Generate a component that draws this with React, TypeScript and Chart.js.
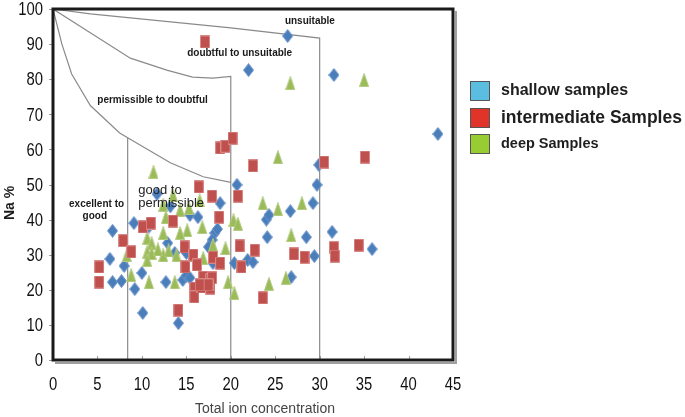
import React, { useEffect, useRef } from "react";
import { Chart, registerables } from "chart.js";
Chart.register(...registerables);

// ---------- data ----------
const xTickValues = [0, 5, 10, 15, 20, 25, 30, 35, 40, 45];
const yTickValues = [0, 10, 20, 30, 40, 50, 60, 70, 80, 90, 100];

const seriesNames = ["shallow samples", "intermediate Samples", "deep Samples"];

const shallowPoints: [number, number][] = [
  [6.7, 36.8], [6.4, 28.8], [8.0, 26.8], [6.7, 22.2], [7.7, 22.5], [9.2, 20.2],
  [10.0, 24.8], [9.1, 39.0], [10.1, 13.4], [14.1, 10.5], [12.7, 22.2], [11.7, 47.3],
  [12.9, 33.3], [13.7, 30.5], [14.6, 22.8], [15.0, 24.0], [15.4, 23.4], [15.0, 30.5],
  [15.4, 41.3], [16.3, 40.7], [18.8, 44.7], [18.2, 36.2], [18.5, 37.3], [17.9, 34.2],
  [17.5, 32.2], [18.0, 27.6], [10.8, 38.0], [13.2, 43.8],
  [20.7, 49.9], [20.4, 27.6], [21.9, 28.5], [22.5, 27.9], [24.0, 40.0], [24.3, 41.3],
  [24.1, 35.0], [26.7, 42.4], [28.5, 35.0], [29.25, 44.7], [29.4, 29.6], [29.7, 49.9],
  [29.9, 55.6], [31.4, 36.5], [35.9, 31.6], [26.8, 23.6], [26.4, 92.3], [22.0, 82.6],
  [31.6, 81.2], [43.3, 64.4],
];

const intermediatePoints: [number, number][] = [
  [17.1, 90.6], [18.8, 60.4], [19.4, 60.9], [20.2, 63.2], [22.5, 55.3], [30.5, 56.4],
  [35.1, 57.8], [20.8, 46.7], [21.0, 32.5], [21.2, 26.5], [22.7, 31.3], [27.1, 30.2],
  [28.3, 29.3], [31.6, 32.0], [31.7, 29.6], [34.4, 32.7], [23.6, 17.7], [16.4, 49.3],
  [17.9, 46.7], [18.7, 40.7], [13.5, 39.6], [10.1, 37.9], [11.0, 39.0], [7.9, 34.0],
  [8.8, 30.8], [5.2, 26.5], [5.2, 22.2], [14.8, 32.2], [14.9, 26.5], [15.8, 29.9],
  [16.2, 27.1], [15.9, 20.5], [15.9, 18.0], [16.9, 23.6], [16.7, 20.8], [17.7, 22.8],
  [17.7, 20.5], [18.0, 29.3], [18.8, 27.6], [14.1, 14.2], [17.9, 23.4], [16.5, 21.4],
  [17.5, 21.4],
];

const deepPoints: [number, number][] = [
  [26.7, 78.9], [35.0, 79.8], [25.3, 57.8], [23.6, 44.7], [25.3, 43.0], [28.0, 44.7],
  [26.8, 35.6], [24.3, 21.7], [26.2, 23.4], [20.3, 39.9], [20.8, 38.8], [20.4, 19.1],
  [19.7, 22.2], [11.3, 53.6], [13.5, 47.0], [12.4, 44.2], [12.7, 40.7], [14.3, 42.7],
  [15.3, 43.3], [16.5, 45.5], [16.8, 37.9], [15.1, 37.0], [14.3, 36.2], [12.4, 36.2],
  [10.6, 34.8], [11.1, 33.3], [10.6, 30.8], [11.1, 30.5], [12.4, 29.9], [13.9, 29.9],
  [10.6, 28.5], [8.8, 24.2], [8.3, 29.9], [10.8, 22.2], [13.7, 22.2], [16.9, 29.1],
  [18.0, 32.8], [19.4, 31.9], [11.8, 31.5], [13.0, 31.2],
];

// Wilcox-type class boundaries
const boundaryExcellent: [number, number][] = [
  [0, 100], [1, 90], [2.1, 81.5], [4.2, 72.5], [7.5, 64.7], [8.4, 63.3],
  [13.2, 56.2], [16.9, 52.2], [20, 50.6],
];
const boundaryExcellentVertical: [number, number][] = [[8.4, 0], [8.4, 63.3]];
const boundaryPermissible: [number, number][] = [
  [0, 100], [8.7, 86], [12.8, 82.6], [15.7, 80.6], [18, 80.3], [20, 80.8], [20, 0],
];
const boundaryDoubtful: [number, number][] = [
  [0, 100], [4.2, 98.6], [20, 94.6], [30, 91.7], [30, 0],
];

// ---------- styling ----------
const SANS = "'Liberation Sans', Arial, Helvetica, sans-serif";

function makeMarker(shape: string, fill: string, stroke: string) {
  const c = document.createElement("canvas");
  const w = shape === "diamond" ? 11 : 10;
  const h = shape === "square" ? 13 : 14;
  c.width = w;
  c.height = h;
  const ctx = c.getContext("2d")!;
  ctx.fillStyle = fill;
  ctx.strokeStyle = stroke;
  ctx.lineWidth = 1;
  ctx.beginPath();
  if (shape === "diamond") {
    ctx.moveTo(w / 2, 0.5);
    ctx.lineTo(w - 0.5, h / 2);
    ctx.lineTo(w / 2, h - 0.5);
    ctx.lineTo(0.5, h / 2);
  } else if (shape === "square") {
    ctx.rect(0.5, 0.5, w - 1, h - 1);
  } else {
    ctx.moveTo(w / 2, 0.5);
    ctx.lineTo(w - 0.5, h - 0.5);
    ctx.lineTo(0.5, h - 0.5);
  }
  ctx.closePath();
  ctx.fill();
  ctx.stroke();
  return c;
}

const toXY = (arr: [number, number][]) => arr.map(([x, y]) => ({ x, y }));

function narrowText(ctx: CanvasRenderingContext2D, text: string, x: number, y: number, align: CanvasTextAlign) {
  ctx.save();
  ctx.translate(x, y);
  ctx.scale(0.78, 1);
  ctx.textAlign = align;
  ctx.fillText(text, 0, 0);
  ctx.restore();
}

const decorPlugin = {
  id: "decor",
  afterDraw(chart: any) {
    const { ctx, chartArea, scales } = chart;
    const { left, top, right, bottom } = chartArea;
    const X = (v: number) => scales.x.getPixelForValue(v);
    const Y = (v: number) => scales.y.getPixelForValue(v);
    ctx.save();

    // inner x tick marks, outer y tick marks
    ctx.strokeStyle = "#9a9a9a";
    ctx.lineWidth = 1;
    xTickValues.forEach((v) => {
      if (v === 0 || v === 45) return;
      const px = Math.round(X(v)) + 0.5;
      ctx.beginPath();
      ctx.moveTo(px, bottom);
      ctx.lineTo(px, bottom - 4);
      ctx.stroke();
    });
    yTickValues.forEach((v) => {
      const py = Math.round(Y(v)) + 0.5;
      ctx.beginPath();
      ctx.moveTo(left, py);
      ctx.lineTo(left - 4, py);
      ctx.stroke();
    });

    // frame with shadow
    ctx.strokeStyle = "#a0a0a0";
    ctx.lineWidth = 2;
    ctx.beginPath();
    ctx.moveTo(left + 2, bottom + 3);
    ctx.lineTo(right + 3, bottom + 3);
    ctx.lineTo(right + 3, top + 2);
    ctx.stroke();
    ctx.strokeStyle = "#1a1a1a";
    ctx.lineWidth = 3;
    ctx.strokeRect(left, top, right - left, bottom - top);

    // tick labels
    ctx.fillStyle = "#111";
    ctx.font = `19px ${SANS}`;
    ctx.textBaseline = "middle";
    yTickValues.forEach((v) => narrowText(ctx, String(v), 43, Y(v) + 1, "right"));
    xTickValues.forEach((v) => narrowText(ctx, String(v), X(v), 385, "center"));

    // region labels
    ctx.fillStyle = "#1a1a1a";
    ctx.textAlign = "center";
    ctx.textBaseline = "middle";
    ctx.font = `bold 10px ${SANS}`;
    ctx.fillText("unsuitable", X(28.9), Y(96.6));
    ctx.fillText("doubtful to unsuitable", X(21.0), Y(87.5));
    ctx.fillText("permissible to doubtful", X(11.2), Y(74.1));
    ctx.fillText("excellent to", X(4.9), Y(44.4));
    ctx.fillText("good", X(4.7), Y(40.9));
    ctx.font = `13px ${SANS}`;
    ctx.fillStyle = "#222";
    ctx.textAlign = "left";
    ctx.fillText("good to", X(9.6), Y(48.4));
    ctx.fillText("permissible", X(9.6), Y(44.7));

    // axis titles
    ctx.fillStyle = "#444";
    ctx.textAlign = "center";
    ctx.font = `14px ${SANS}`;
    ctx.fillText("Total ion concentration", 265, 409);
    ctx.save();
    ctx.translate(10, 203);
    ctx.rotate(-Math.PI / 2);
    ctx.fillStyle = "#1a1a1a";
    ctx.font = `bold 14px ${SANS}`;
    ctx.fillText("Na %", 0, 0);
    ctx.restore();

    // legend
    const legendItems = [
      { text: seriesNames[0], color: "#5BBDE0", y: 81, size: 16 },
      { text: seriesNames[1], color: "#E0342A", y: 108, size: 17.5 },
      { text: seriesNames[2], color: "#99CC33", y: 134, size: 14.5 },
    ];
    legendItems.forEach((it) => {
      ctx.fillStyle = it.color;
      ctx.fillRect(470, it.y, 20, 20);
      ctx.strokeStyle = "#555";
      ctx.lineWidth = 1;
      ctx.strokeRect(470.5, it.y + 0.5, 19, 19);
      ctx.fillStyle = "#1e1e1e";
      ctx.textAlign = "left";
      ctx.textBaseline = "middle";
      ctx.font = `bold ${it.size}px ${SANS}`;
      ctx.fillText(it.text, 501, it.y + 10);
    });

    ctx.restore();
  },
};

export default function App() {
  const canvasRef = useRef<HTMLCanvasElement | null>(null);

  useEffect(() => {
    const canvas = canvasRef.current;
    if (!canvas) return;
    const diamond = makeMarker("diamond", "#4A7EBB", "#6E97CB");
    const square = makeMarker("square", "#C0504D", "#D88886");
    const triangle = makeMarker("triangle", "#9BBB59", "#B3CC82");

    const lineDs = (data: [number, number][]) => ({
      data: toXY(data),
      showLine: true,
      borderColor: "#8a8a8a",
      borderWidth: 1.2,
      pointRadius: 0,
      pointHoverRadius: 0,
      fill: false,
      tension: 0,
      order: 10,
    });

    const chart = new Chart(canvas, {
      type: "scatter",
      data: {
        datasets: [
          lineDs(boundaryExcellent),
          lineDs(boundaryExcellentVertical),
          lineDs(boundaryPermissible),
          lineDs(boundaryDoubtful),
          {
            label: seriesNames[0],
            data: toXY(shallowPoints),
            pointStyle: diamond,
            pointRadius: 6,
            order: 3,
          },
          {
            label: seriesNames[2],
            data: toXY(deepPoints),
            pointStyle: triangle,
            pointRadius: 6,
            order: 2,
          },
          {
            label: seriesNames[1],
            data: toXY(intermediatePoints),
            pointStyle: square,
            pointRadius: 6,
            order: 1,
          },
        ] as any,
      },
      options: {
        animation: false,
        responsive: false,
        devicePixelRatio: 1,
        layout: { padding: { top: 9, right: 232, left: 0, bottom: 0 } },
        plugins: {
          legend: { display: false },
          tooltip: { enabled: false },
          title: { display: false },
        },
        scales: {
          x: {
            type: "linear",
            min: 0,
            max: 45,
            ticks: { display: false, stepSize: 5 },
            grid: { display: false },
            border: { display: false },
            afterFit: (s: any) => {
              s.height = 57;
            },
          },
          y: {
            type: "linear",
            min: 0,
            max: 100,
            ticks: { display: false, stepSize: 10 },
            grid: { display: false },
            border: { display: false },
            afterFit: (s: any) => {
              s.width = 53;
            },
          },
        },
      } as any,
      plugins: [decorPlugin],
    });
    return () => chart.destroy();
  }, []);

  return (
    <div style={{ position: "absolute", left: 0, top: 0, width: 685, height: 417, background: "#fff" }}>
      <canvas ref={canvasRef} width={685} height={417} style={{ width: 685, height: 417 }} />
    </div>
  );
}
